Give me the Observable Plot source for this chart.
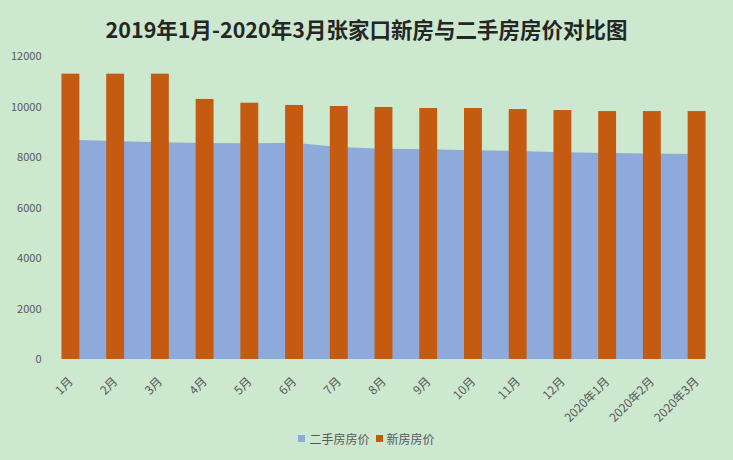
<!DOCTYPE html>
<html>
<head>
<meta charset="utf-8">
<script src="https://cdn.jsdelivr.net/npm/d3@7"></script>
<script src="https://cdn.jsdelivr.net/npm/@observablehq/plot@0.6"></script>
<style>
  html, body { margin: 0; padding: 0; background: #cce8cf; width: 733px; height: 460px; overflow: hidden; }
  #title { height: 40px; line-height: 57px; text-align: center; font-family: "Noto Sans CJK SC", sans-serif; font-weight: bold; font-size: 21.5px; color: #262626; }
  #legend { display: flex; justify-content: center; align-items: center; gap: 6px; font-family: "Noto Sans CJK SC", sans-serif; font-size: 12px; color: #595959; margin-top: 6px; }
  .sw { display: inline-block; width: 7px; height: 7px; margin-right: 4px; }
  .item { display: flex; align-items: center; }
</style>
</head>
<body>
<div id="title">2019年1月-2020年3月张家口新房与二手房房价对比图</div>
<div id="chart"></div>
<div id="legend"></div>
<script>
const months = ["1月","2月","3月","4月","5月","6月","7月","8月","9月","10月","11月","12月","2020年1月","2020年2月","2020年3月"];
const newPrice = [11300,11300,11300,10300,10150,10060,10020,9980,9940,9940,9900,9860,9820,9820,9820];
const secondPrice = [8680,8630,8580,8550,8540,8560,8400,8330,8310,8270,8240,8190,8160,8140,8120];
const yTicks = [0,2000,4000,6000,8000,10000,12000];
const seriesNames = ["二手房房价","新房房价"];
const seriesColors = ["#8eaadb","#c55a11"];

const data = months.map((m, i) => ({month: m, second: secondPrice[i], newp: newPrice[i]}));

const chart = Plot.plot({
  width: 733,
  height: 384,
  marginLeft: 57,
  marginRight: 23,
  marginTop: 16,
  marginBottom: 65,
  style: {background: "transparent", fontFamily: "'Noto Sans CJK SC', 'Noto Sans', sans-serif", fontSize: "11px", color: "#595959", overflow: "visible"},
  x: {domain: months, paddingInner: 0.6, paddingOuter: 0.1, round: false, label: null},
  y: {domain: [0, 12000], label: null},
  marks: [
    Plot.areaY(data, {x: "month", y: "second", fill: seriesColors[0]}),
    Plot.barY(data, {x: "month", y: "newp", fill: seriesColors[1]}),
    Plot.axisY({ticks: yTicks, tickFormat: d => String(d), tickSize: 0, tickPadding: 16, fontSize: 11, label: null}),
    Plot.axisX({tickSize: 0, tickPadding: 20, tickRotate: -45, fontSize: 12, label: null, dx: 0})
  ]
});
document.getElementById("chart").appendChild(chart);

const legend = document.getElementById("legend");
seriesNames.forEach((n, i) => {
  const it = document.createElement("span");
  it.className = "item";
  it.innerHTML = `<span class="sw" style="background:${seriesColors[i]}"></span>${n}`;
  legend.appendChild(it);
});
</script>
</body>
</html>
